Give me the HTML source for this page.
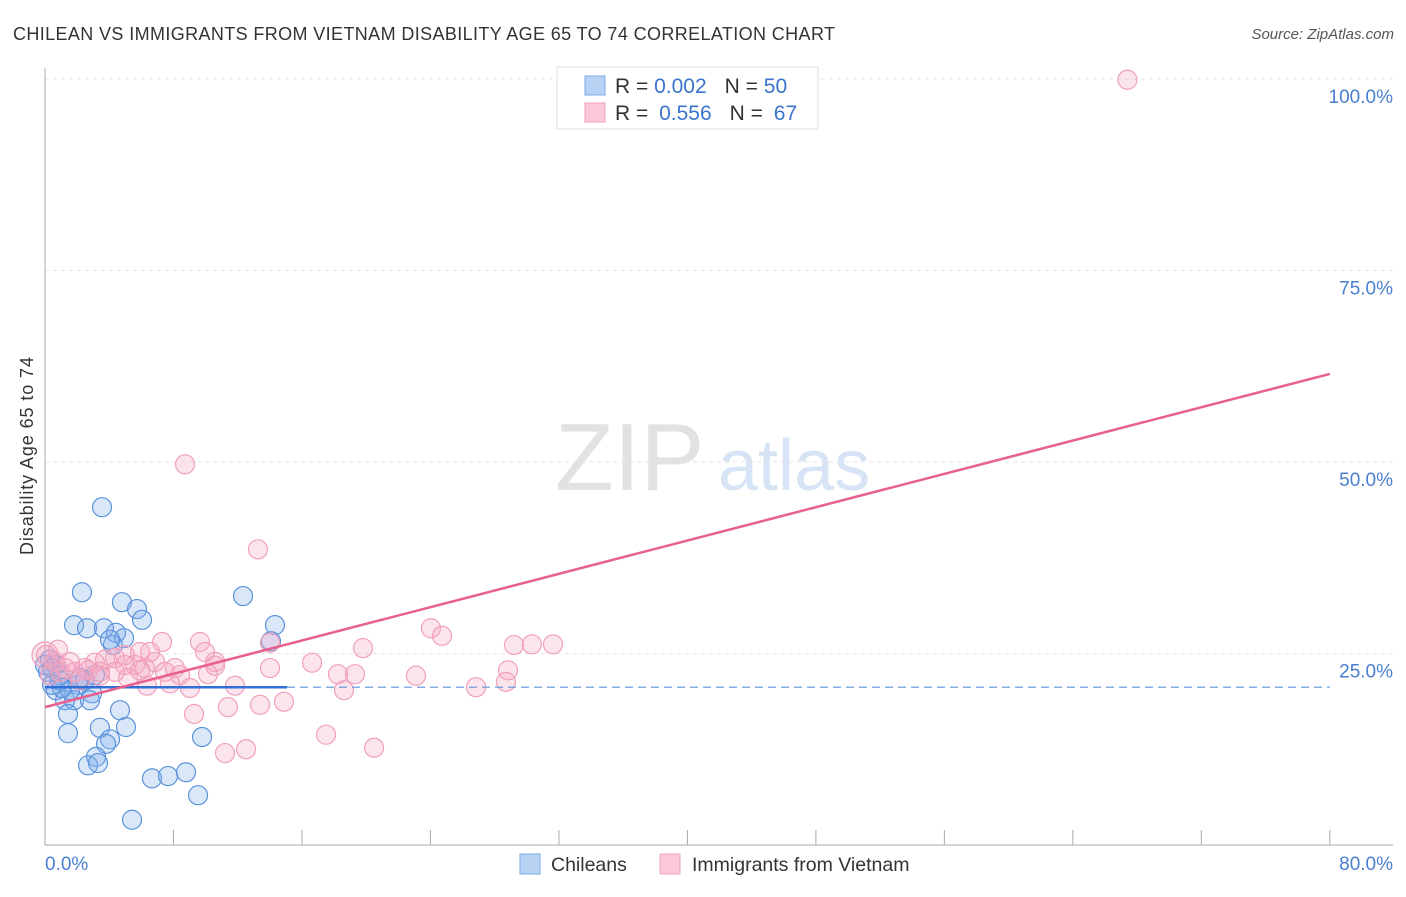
<!DOCTYPE html>
<html><head><meta charset="utf-8"><style>
body{margin:0;background:#fff;font-family:"Liberation Sans",sans-serif;}
svg text{font-family:"Liberation Sans",sans-serif;}
</style></head><body>
<svg id="chart" width="1406" height="892" viewBox="0 0 1406 892">
<text x="13" y="40" font-size="18" fill="#333" textLength="822">CHILEAN VS IMMIGRANTS FROM VIETNAM DISABILITY AGE 65 TO 74 CORRELATION CHART</text>
<text x="1394" y="39" font-size="15" fill="#555" font-style="italic" text-anchor="end">Source: ZipAtlas.com</text>
<g>
<text x="555" y="490" font-size="96" fill="#e2e2e2" font-family="Liberation Serif,serif">ZIP</text>
<text x="718" y="490" font-size="72" fill="#d7e4f5">atlas</text>
</g>
<g id="grid"></g>
<g id="axes"></g>
<g id="marks"></g>
<text transform="translate(33,456) rotate(-90)" font-size="18" fill="#333" text-anchor="middle" textLength="198">Disability Age 65 to 74</text>
<g>
<rect x="557" y="67" width="261" height="62" fill="#fff" stroke="#ddd"/>
<rect x="585" y="76" width="20" height="19" fill="#b8d2f4" stroke="#7eaae6"/>
<rect x="585" y="103" width="20" height="19" fill="#fcc9d8" stroke="#f0a0bb"/>
<text x="615" y="93" font-size="21" fill="#333">R = <tspan fill="#3a74cc">0.002</tspan><tspan dx="18">N = </tspan><tspan fill="#3a74cc">50</tspan></text>
<text x="615" y="120" font-size="21" fill="#333">R = <tspan fill="#3a74cc" dx="5">0.556</tspan><tspan dx="18">N = </tspan><tspan fill="#3a74cc" dx="5">67</tspan></text>
</g>
<g>
<rect x="520" y="854" width="20" height="20" fill="#b8d2f4" stroke="#7eaae6"/>
<text x="551" y="871" font-size="19.5" fill="#333">Chileans</text>
<rect x="660" y="854" width="20" height="20" fill="#fcc9d8" stroke="#f0a0bb"/>
<text x="692" y="871" font-size="19.5" fill="#333">Immigrants from Vietnam</text>
</g>
</svg>
<script>
const yTicks=[25,50,75,100];
const yTickLabels=["25.0%","50.0%","75.0%","100.0%"];
const xTicks=[0,8,16,24,32,40,48,56,64,72,80];
const xEndLabels=["0.0%","80.0%"];
const blueX=[3.55,2.3,4.79,5.73,6.04,1.81,2.62,3.67,4.42,4.92,4.23,12.33,14.32,14.07,0.68,0.44,0.19,0.93,2.05,2.93,0.68,1.25,1.81,2.8,1.43,4.67,3.42,5.04,1.43,4.05,3.8,3.18,2.68,3.3,9.78,6.66,7.66,8.78,9.53,5.42,2.49,0.31,0.93,0.44,1.56,2.18,3.11,4.05,0,1.06];
const blueY=[44.1,33.0,31.7,30.8,29.4,28.7,28.3,28.3,27.7,27.0,26.1,32.5,28.7,26.6,23.5,23.1,22.6,22.1,20.9,19.8,20.2,18.9,18.9,18.9,17.1,17.6,15.3,15.4,14.6,13.8,13.2,11.5,10.4,10.7,14.1,8.7,9.0,9.5,6.5,3.3,21.5,24.2,21.5,20.9,20.2,21.8,22.2,26.8,23.5,20.5];
const pinkX=[67.4,8.72,13.26,24.03,24.72,29.2,30.32,31.63,7.29,9.65,14.01,19.8,5.92,10.59,16.63,14.01,28.83,0.06,0.62,1.25,1.87,2.49,3.11,3.74,4.36,4.98,5.6,6.23,6.85,7.47,8.09,8.41,9.03,10.15,11.83,18.24,19.3,23.1,28.7,26.84,18.62,6.35,7.78,5.17,3.42,2.68,0.93,0.31,2.18,9.28,11.39,13.39,14.88,17.5,20.49,11.21,12.52,4.36,4.98,6.54,9.96,0.81,1.56,10.59,3.42,5.92,0];
const pinkY=[99.9,49.7,38.6,28.3,27.3,26.1,26.2,26.2,26.5,26.5,26.4,25.7,25.2,23.9,23.8,23.1,22.8,24.8,23.9,23.1,22.6,23.1,23.8,24.2,24.4,24.8,23.5,23.1,23.9,22.6,23.1,22.2,20.5,22.3,20.8,22.3,22.3,22.1,21.3,20.6,20.2,20.8,21.1,21.8,22.1,22.8,22.6,22.2,21.5,17.1,18.0,18.3,18.7,14.4,12.7,12.0,12.5,22.6,23.5,25.2,25.2,25.5,23.9,23.4,22.6,22.8,24.8];
const blueTrend=[20.6,20.6]; const blueSolidEnd=15.07;
const pinkTrend=[18.0,61.5];
const NS="http://www.w3.org/2000/svg";
const X=v=>45+v*16.06, Y=v=>845-v*7.66;
function mk(tag,attrs,parent){const e=document.createElementNS(NS,tag);for(const k in attrs)e.setAttribute(k,attrs[k]);parent.appendChild(e);return e;}
const grid=document.getElementById('grid'),axes=document.getElementById('axes'),marks=document.getElementById('marks');
yTicks.forEach((t,i)=>{
 const l=mk('line',{x1:45,x2:1393,y1:Y(t),y2:Y(t),stroke:'#e3e3e3','stroke-dasharray':'4,4'},grid);
 
 
 const tx=mk('text',{x:1393,y:Y(t)+24,'font-size':19,fill:'#4a7fd0','text-anchor':'end'},axes);
 tx.textContent=yTickLabels[i];
 
 
});
const ya=mk('line',{x1:45,x2:45,y1:68,y2:845,stroke:'#aaa'},axes);


const xa=mk('line',{x1:45,x2:1393,y1:845,y2:845,stroke:'#aaa'},axes);


xTicks.forEach(t=>{
 const l=mk('line',{x1:X(t),x2:X(t),y1:830,y2:845,stroke:'#aaa'},axes);
 
 
});
const xl0=mk('text',{x:45,y:870,'font-size':19,fill:'#4a7fd0'},axes);xl0.textContent=xEndLabels[0];


const xl1=mk('text',{x:1393,y:870,'font-size':19,fill:'#4a7fd0','text-anchor':'end'},axes);xl1.textContent=xEndLabels[1];


blueX.forEach((v,i)=>{
 const c=mk('circle',{cx:X(v),cy:Y(blueY[i]),r:9.5,fill:'rgba(130,175,235,0.3)',stroke:'#5b93db','stroke-width':1.2},marks);
 
 
});
pinkX.forEach((v,i)=>{
 const c=mk('circle',{cx:X(v),cy:Y(pinkY[i]),r:(i==pinkX.length-1?13:9.5),fill:'rgba(245,165,195,0.3)',stroke:'#f0a0bb','stroke-width':1.2},marks);
 
 
});
const b1=mk('line',{x1:X(0),x2:X(blueSolidEnd),y1:Y(blueTrend[0]),y2:Y(blueTrend[0]),stroke:'#2f6fd6','stroke-width':2.5},marks);


const b2=mk('line',{x1:X(blueSolidEnd),x2:X(80),y1:Y(blueTrend[0]),y2:Y(blueTrend[1]),stroke:'#5b93db','stroke-width':1.2,'stroke-dasharray':'8,5'},marks);


const p=mk('line',{x1:X(0),x2:X(80),y1:Y(pinkTrend[0]),y2:Y(pinkTrend[1]),stroke:'#e8608f','stroke-width':2.5},marks);


</script>
</body></html>
